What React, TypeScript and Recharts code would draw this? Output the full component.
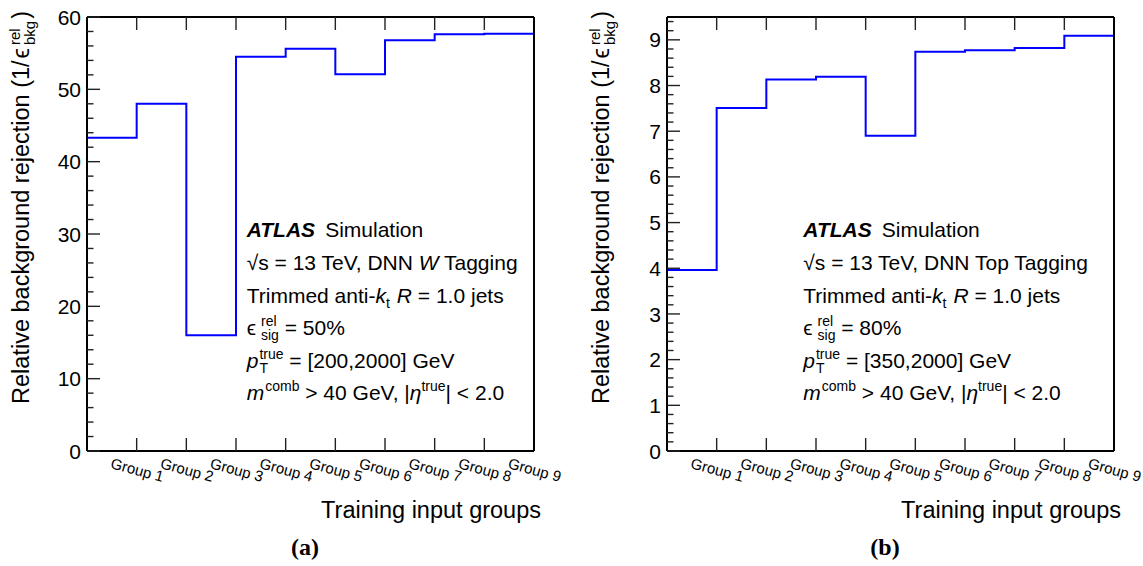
import React from "react";
import { ComposedChart, Line, XAxis, YAxis } from "recharts";

// ---------- data ----------
const groupLabels = ["Group 1", "Group 2", "Group 3", "Group 4", "Group 5", "Group 6", "Group 7", "Group 8", "Group 9"];
const wTagRejection = [43.3, 48.0, 16.0, 54.5, 55.6, 52.1, 56.8, 57.6, 57.7];
const topTagRejection = [3.96, 7.51, 8.13, 8.19, 6.9, 8.74, 8.77, 8.82, 9.09];
const wMajorTicks = [0, 10, 20, 30, 40, 50, 60];
const topMajorTicks = [0, 1, 2, 3, 4, 5, 6, 7, 8, 9];
const wYDomain: [number, number] = [0, 60];
const topYDomain: [number, number] = [0, 9.5];
const wMinorStep = 2;
const topMinorStep = 0.2;
const wTagger = "W";
const topTagger = "Top";
const wSigEff = "50%";
const topSigEff = "80%";
const wPtRange = "[200,2000] GeV";
const topPtRange = "[350,2000] GeV";

const FONT = "'Liberation Sans', Arial, Helvetica, sans-serif";
const SERIF = "'Liberation Serif', 'Times New Roman', serif";

const nBins = groupLabels.length;
const binEdges = Array.from({ length: nBins - 1 }, (_, i) => i + 1);
const binCenters = groupLabels.map((_, i) => i + 0.5);
const bottomTicks = [...binCenters, ...binEdges].sort((a, b) => a - b);

function buildSteps(values: number[]) {
  const rows = values.map((v, i) => ({ edge: i, value: v }));
  rows.push({ edge: values.length, value: values[values.length - 1] });
  return rows;
}

function buildYTicks(max: number, step: number) {
  const n = Math.floor(max / step + 1e-9);
  const out: number[] = [];
  for (let i = 0; i <= n; i++) out.push(Math.round(i * step * 1000) / 1000);
  return out;
}

const TICK_COLOR = "#222";

type PanelProps = {
  values: number[];
  yDomain: [number, number];
  majorTicks: number[];
  minorStep: number;
  textX: number;
  tagger: string;
  sigEff: string;
  ptRange: string;
  caption: string;
  width: number;
};

function Panel({ values, yDomain, majorTicks, minorStep, textX, tagger, sigEff, ptRange, caption, width }: PanelProps) {
  const data = buildSteps(values);
  const yTicks = buildYTicks(yDomain[1], minorStep);
  const isMajor = (v: number) => majorTicks.some((m) => Math.abs(m - v) < 1e-6);

  const BottomTick = (p: any) => {
    const { x, y, payload } = p;
    const v = payload.value;
    if (Math.abs(v - Math.round(v)) < 1e-6) {
      return <line x1={x} x2={x} y1={y} y2={y - 13} stroke={TICK_COLOR} strokeWidth={1.4} />;
    }
    const label = groupLabels[Math.floor(v)];
    const tx = x - 2;
    const ty = y + 17;
    return (
      <text x={tx} y={ty} transform={`rotate(15, ${tx}, ${ty})`} fontSize={15} fontFamily={FONT} fill="#000" textAnchor="start">
        {label}
      </text>
    );
  };
  const TopTick = (p: any) => {
    const { x, y } = p;
    return <line x1={x} x2={x} y1={y} y2={y + 13} stroke={TICK_COLOR} strokeWidth={1.4} />;
  };
  const LeftTick = (p: any) => {
    const { x, y, payload } = p;
    const v = payload.value;
    const major = isMajor(v);
    return (
      <g>
        <line x1={x} x2={x + (major ? 13 : 6.5)} y1={y} y2={y} stroke={TICK_COLOR} strokeWidth={1.4} />
        {major ? (
          <text x={x - 6} y={y} dy="0.36em" textAnchor="end" fontSize={21} fontFamily={FONT} fill="#000">
            {String(Math.round(v))}
          </text>
        ) : null}
      </g>
    );
  };
  const RightTick = (p: any) => {
    const { x, y, payload } = p;
    const major = isMajor(payload.value);
    return <line x1={x} x2={x - (major ? 13 : 6.5)} y1={y} y2={y} stroke={TICK_COLOR} strokeWidth={1.4} />;
  };

  const fs = 21;
  const sfs = 14;
  // plot right edge stays at x = 534 within the panel
  const rightMargin = width - 534 - 1;
  return (
    <ComposedChart width={width} height={566} data={data} margin={{ top: 16, right: rightMargin, bottom: 114, left: 0 }}>
      <XAxis
        xAxisId="bottom"
        dataKey="edge"
        type="number"
        domain={[0, nBins]}
        ticks={bottomTicks}
        interval={0}
        tickSize={0}
        tickMargin={0}
        tickLine={false}
        axisLine={{ stroke: "#000", strokeWidth: 2 }}
        height={1}
        tick={BottomTick}
      />
      <XAxis
        xAxisId="top"
        orientation="top"
        dataKey="edge"
        type="number"
        domain={[0, nBins]}
        ticks={binEdges}
        interval={0}
        tickSize={0}
        tickMargin={0}
        tickLine={false}
        axisLine={{ stroke: "#000", strokeWidth: 2 }}
        height={1}
        tick={TopTick}
      />
      <YAxis
        yAxisId="left"
        type="number"
        domain={yDomain}
        ticks={yTicks}
        interval={0}
        tickSize={0}
        tickMargin={0}
        tickLine={false}
        axisLine={{ stroke: "#000", strokeWidth: 2 }}
        width={87}
        tick={LeftTick}
      />
      <YAxis
        yAxisId="right"
        orientation="right"
        type="number"
        domain={yDomain}
        ticks={yTicks}
        interval={0}
        tickSize={0}
        tickMargin={0}
        tickLine={false}
        axisLine={{ stroke: "#000", strokeWidth: 2 }}
        width={1}
        tick={RightTick}
      />
      <Line
        xAxisId="bottom"
        yAxisId="left"
        type="stepAfter"
        dataKey="value"
        stroke="#0000ff"
        strokeWidth={2}
        dot={false}
        activeDot={false}
        isAnimationActive={false}
      />
      <g fontFamily={FONT} fill="#000">
        {/* y title */}
        <text x={29} y={11} transform="rotate(-90, 29, 11)" textAnchor="end" fontSize={23.5}>
          <tspan>Relative background rejection (1/</tspan>
          <tspan dx={2}>ϵ</tspan>
          <tspan dx={3} dy={-9} fontSize={15}>rel</tspan>
          <tspan dx={-16.7} dy={15} fontSize={15}>bkg</tspan>
          <tspan dx={2} dy={-6}>)</tspan>
        </text>
        {/* x title */}
        <text x={541} y={518} textAnchor="end" fontSize={23.5}>
          Training input groups
        </text>
        {/* annotation */}
        <text x={textX} y={236.5} fontSize={fs}>
          <tspan fontWeight="bold" fontStyle="italic">ATLAS</tspan>
          <tspan dx={10}>Simulation</tspan>
        </text>
        <text x={textX} y={270} fontSize={fs}>
          <tspan>√s = 13 TeV, DNN </tspan>
          {tagger === "W" ? <tspan fontStyle="italic">W</tspan> : <tspan>{tagger}</tspan>}
          <tspan> Tagging</tspan>
        </text>
        <text x={textX} y={303} fontSize={fs}>
          <tspan>Trimmed anti-</tspan>
          <tspan fontStyle="italic">k</tspan>
          <tspan dy={5} fontSize={sfs}>t</tspan>
          <tspan dx={7} dy={-5} fontStyle="italic">R</tspan>
          <tspan> = 1.0 jets</tspan>
        </text>
        <text x={textX} y={334.5} fontSize={fs}>
          <tspan>ϵ</tspan>
          <tspan dx={5} dy={-9} fontSize={sfs}>rel</tspan>
          <tspan dx={-15.6} dy={14} fontSize={sfs}>sig</tspan>
          <tspan dy={-5}>{` = ${sigEff}`}</tspan>
        </text>
        <text x={textX} y={368} fontSize={fs}>
          <tspan fontStyle="italic">p</tspan>
          <tspan dx={1} dy={-9} fontSize={sfs}>true</tspan>
          <tspan dx={-24.1} dy={14} fontSize={sfs}>T</tspan>
          <tspan dx={15.5} dy={-5}>{` = ${ptRange}`}</tspan>
        </text>
        <text x={textX} y={400} fontSize={fs}>
          <tspan fontStyle="italic">m</tspan>
          <tspan dx={1} dy={-9} fontSize={sfs}>comb</tspan>
          <tspan dy={9}> &gt; 40 GeV, |</tspan>
          <tspan fontStyle="italic">η</tspan>
          <tspan dy={-9} fontSize={sfs}>true</tspan>
          <tspan dy={9}>| &lt; 2.0</tspan>
        </text>
        {/* caption */}
        <text x={305} y={555} textAnchor="middle" fontSize={24} fontWeight="bold" fontFamily={SERIF}>
          {caption}
        </text>
      </g>
    </ComposedChart>
  );
}

export default function App() {
  return (
    <div style={{ position: "absolute", left: 0, top: 0, width: 1143, height: 566, background: "#fff", overflow: "hidden" }}>
      <div style={{ position: "absolute", left: 0, top: 0 }}>
        <Panel
          values={wTagRejection}
          yDomain={wYDomain}
          majorTicks={wMajorTicks}
          minorStep={wMinorStep}
          textX={246.7}
          tagger={wTagger}
          sigEff={wSigEff}
          ptRange={wPtRange}
          caption="(a)"
          width={578}
        />
      </div>
      <div style={{ position: "absolute", left: 580, top: 0 }}>
        <Panel
          values={topTagRejection}
          yDomain={topYDomain}
          majorTicks={topMajorTicks}
          minorStep={topMinorStep}
          textX={223.3}
          tagger={topTagger}
          sigEff={topSigEff}
          ptRange={topPtRange}
          caption="(b)"
          width={563}
        />
      </div>
    </div>
  );
}
